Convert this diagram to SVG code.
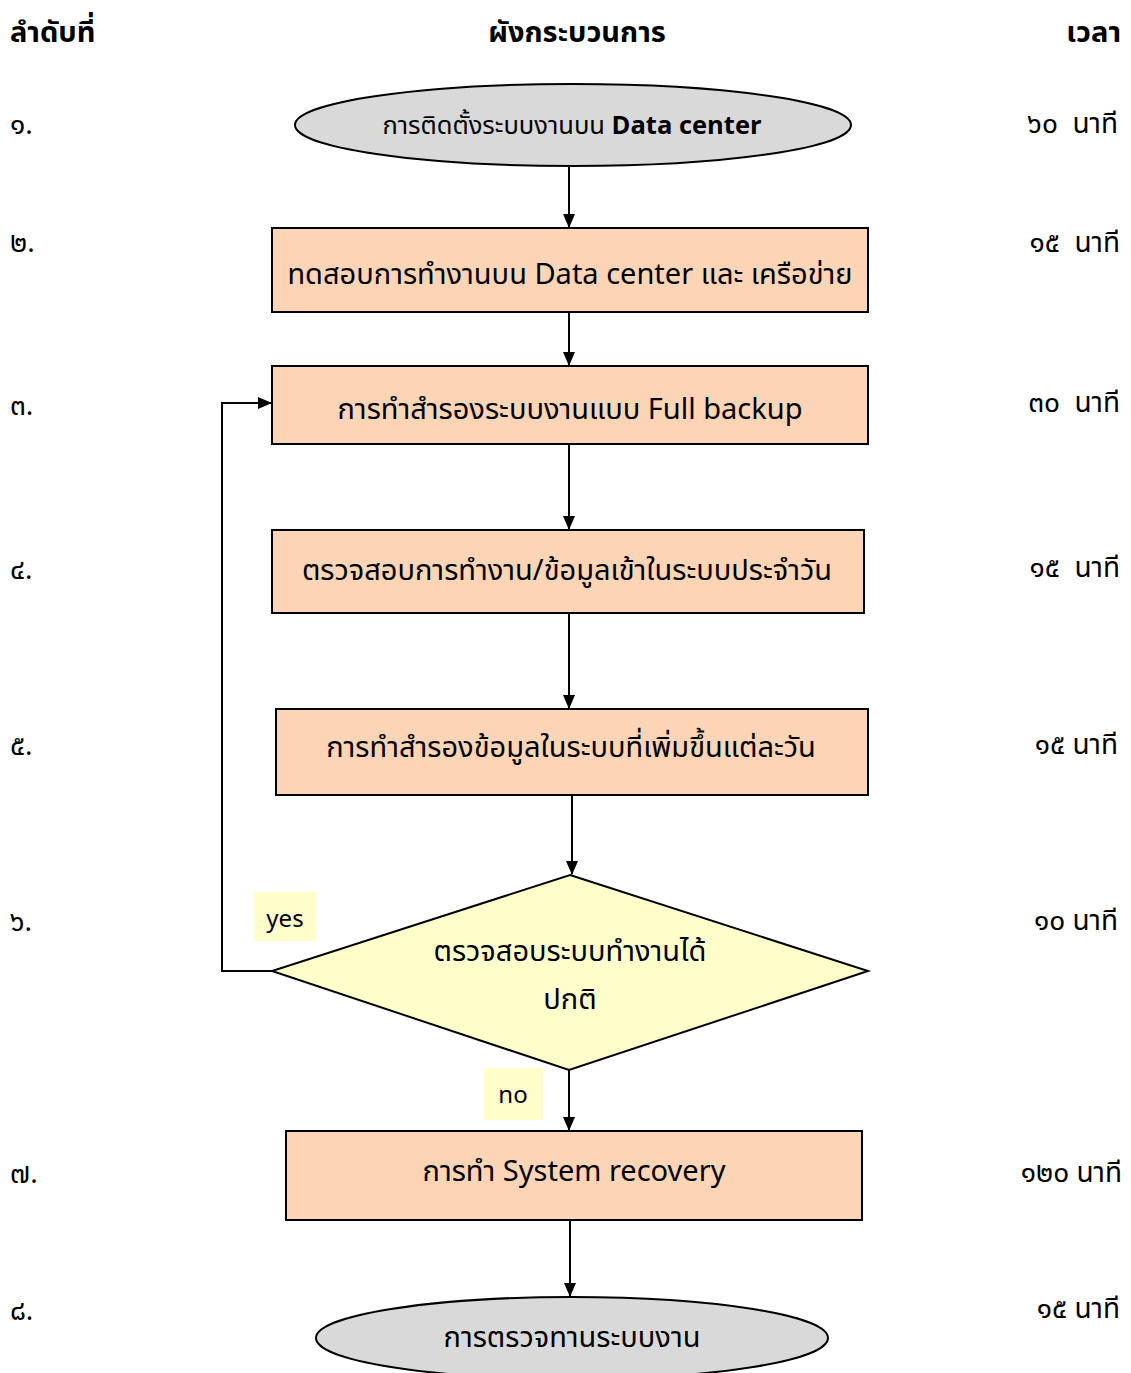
<svg xmlns="http://www.w3.org/2000/svg" width="1131" height="1373" viewBox="0 0 1131 1373">
<defs>
<marker id="ah" markerWidth="14" markerHeight="14" refX="13" refY="7" orient="auto" markerUnits="userSpaceOnUse" viewBox="0 0 14 14">
<path d="M0,1 L14,7 L0,13 Z" fill="#000"/>
</marker>
<style>
text{font-family:"Noto Sans Thai","Noto Sans","DejaVu Sans",sans-serif;fill:#000}
.h{font-size:29px;font-weight:bold}
.t{font-size:29px}
.side{font-size:28px;white-space:pre}
.lb{font-size:24px}
.box{fill:#fbd5b5;stroke:#000;stroke-width:2}
.ell{fill:#d9d9d9;stroke:#000;stroke-width:2}
.dia{fill:#ffffcc;stroke:#000;stroke-width:2}
.lab{fill:#ffffcc}
.c{fill:none;stroke:#000;stroke-width:2;marker-end:url(#ah)}
</style>
</defs>
<rect width="1131" height="1373" fill="#fff"/>
<g id="header">
<text class="h" x="10" y="42">ลำดับที่</text>
<text class="h" x="577" y="42" text-anchor="middle">ผังกระบวนการ</text>
<text class="h" x="1121" y="42" text-anchor="end">เวลา</text>
</g>
<g id="order">
<text class="side" x="10" y="134">๑.</text>
<text class="side" x="10" y="252">๒.</text>
<text class="side" x="10" y="415">๓.</text>
<text class="side" x="10" y="579">๔.</text>
<text class="side" x="10" y="755">๕.</text>
<text class="side" x="10" y="931">๖.</text>
<text class="side" x="10" y="1183">๗.</text>
<text class="side" x="10" y="1320">๘.</text>
</g>
<g id="times">
<text class="side" x="1118" y="133" text-anchor="end" xml:space="preserve">๖๐  นาที</text>
<text class="side" x="1120" y="252" text-anchor="end" xml:space="preserve">๑๕  นาที</text>
<text class="side" x="1120" y="412" text-anchor="end" xml:space="preserve">๓๐  นาที</text>
<text class="side" x="1120" y="577" text-anchor="end" xml:space="preserve">๑๕  นาที</text>
<text class="side" x="1118" y="754" text-anchor="end">๑๕ นาที</text>
<text class="side" x="1118" y="930" text-anchor="end">๑๐ นาที</text>
<text class="side" x="1122" y="1182" text-anchor="end">๑๒๐ นาที</text>
<text class="side" x="1120" y="1318" text-anchor="end">๑๕ นาที</text>
</g>
<g id="connectors">
<line class="c" x1="569" y1="167" x2="569" y2="227"/>
<line class="c" x1="569" y1="312" x2="569" y2="365"/>
<line class="c" x1="569" y1="444" x2="569" y2="529"/>
<line class="c" x1="569" y1="613" x2="569" y2="708"/>
<line class="c" x1="572" y1="795" x2="572" y2="874"/>
<polyline class="c" points="272,971 222,971 222,403 271,403"/>
<line class="c" x1="569" y1="1070" x2="569" y2="1130"/>
<line class="c" x1="570" y1="1220" x2="570" y2="1296"/>
</g>
<g id="n1">
<ellipse class="ell" cx="573" cy="125" rx="278" ry="41"/>
<text x="572" y="134" text-anchor="middle" font-size="25.5">การติดตั้งระบบงานบน <tspan font-weight="bold">Data center</tspan></text>
</g>
<g id="n2">
<rect class="box" x="272" y="228" width="596" height="84"/>
<text class="t" x="570" y="284" text-anchor="middle">ทดสอบการทำงานบน Data center และ เครือข่าย</text>
</g>
<g id="n3">
<rect class="box" x="272" y="366" width="596" height="78"/>
<text class="t" x="570" y="419" text-anchor="middle">การทำสำรองระบบงานแบบ Full backup</text>
</g>
<g id="n4">
<rect class="box" x="272" y="530" width="592" height="83"/>
<text class="t" x="567" y="580" text-anchor="middle" font-size="30">ตรวจสอบการทำงาน/ข้อมูลเข้าในระบบประจำวัน</text>
</g>
<g id="n5">
<rect class="box" x="276" y="709" width="592" height="86"/>
<text class="t" x="571" y="757" text-anchor="middle">การทำสำรองข้อมูลในระบบที่เพิ่มขึ้นแต่ละวัน</text>
</g>
<g id="n6">
<polygon class="dia" points="570,875 868,971 569,1070 272,971"/>
<text class="t" x="570" y="961" text-anchor="middle">ตรวจสอบระบบทำงานได้</text>
<text class="t" x="570" y="1009" text-anchor="middle">ปกติ</text>
</g>
<g id="label-yes">
<rect class="lab" x="254" y="892" width="62" height="49"/>
<text class="lb" x="285" y="927" text-anchor="middle">yes</text>
</g>
<g id="label-no">
<rect class="lab" x="484" y="1068" width="59" height="52"/>
<text class="lb" x="513" y="1103" text-anchor="middle">no</text>
</g>
<g id="n7">
<rect class="box" x="286" y="1131" width="576" height="89"/>
<text class="t" x="574" y="1181" text-anchor="middle" font-size="28.5">การทำ System recovery</text>
</g>
<g id="n8">
<ellipse class="ell" cx="572" cy="1338" rx="256" ry="41"/>
<text class="t" x="572" y="1347" text-anchor="middle">การตรวจทานระบบงาน</text>
</g>
</svg>
